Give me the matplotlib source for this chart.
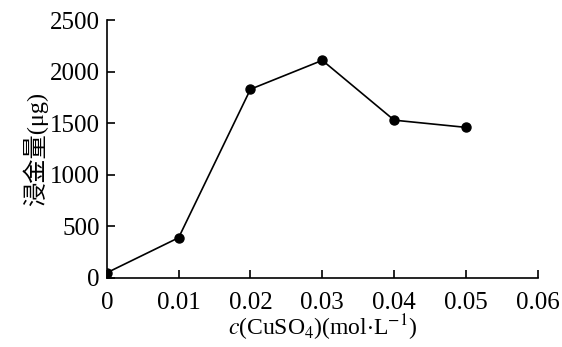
import matplotlib
matplotlib.use("Agg")
import matplotlib.pyplot as plt

# 数据：CuSO4 浓度 与 浸金量
conc = [0.0, 0.01, 0.02, 0.03, 0.04, 0.05]
gold = [50, 390, 1830, 2110, 1530, 1460]
xticks = [0, 0.01, 0.02, 0.03, 0.04, 0.05, 0.06]
xticklabels = ["0", "0.01", "0.02", "0.03", "0.04", "0.05", "0.06"]
yticks = [0, 500, 1000, 1500, 2000, 2500]

plt.rcParams["font.family"] = ["Liberation Serif", "Noto Sans CJK SC"]
plt.rcParams["mathtext.fontset"] = "stix"

fig = plt.figure(figsize=(5.62, 3.47), dpi=100)
ax = fig.add_axes([0.190, 0.199, 0.767, 0.743])

ax.plot(conc, gold, color="black", lw=1.2, marker="o", ms=6.5, mfc="black", mec="black")

ax.set_xlim(0, 0.06)
ax.set_ylim(0, 2500)
ax.set_xticks(xticks)
ax.set_xticklabels(xticklabels)
ax.set_yticks(yticks)

for s in ["top", "right"]:
    ax.spines[s].set_visible(False)
for s in ["left", "bottom"]:
    ax.spines[s].set_linewidth(1.2)

ax.tick_params(direction="in", length=6, width=1.2, labelsize=18)
ax.tick_params(axis="x", pad=10)
ax.tick_params(axis="y", pad=5)

ax.set_ylabel("浸金量(μg)", fontsize=17.5, labelpad=1)
ax.set_xlabel(r"$c$(CuSO$_4$)(mol$\cdot$L$^{-1}$)", fontsize=17, labelpad=-1)

fig.savefig("out.png", dpi=100)
